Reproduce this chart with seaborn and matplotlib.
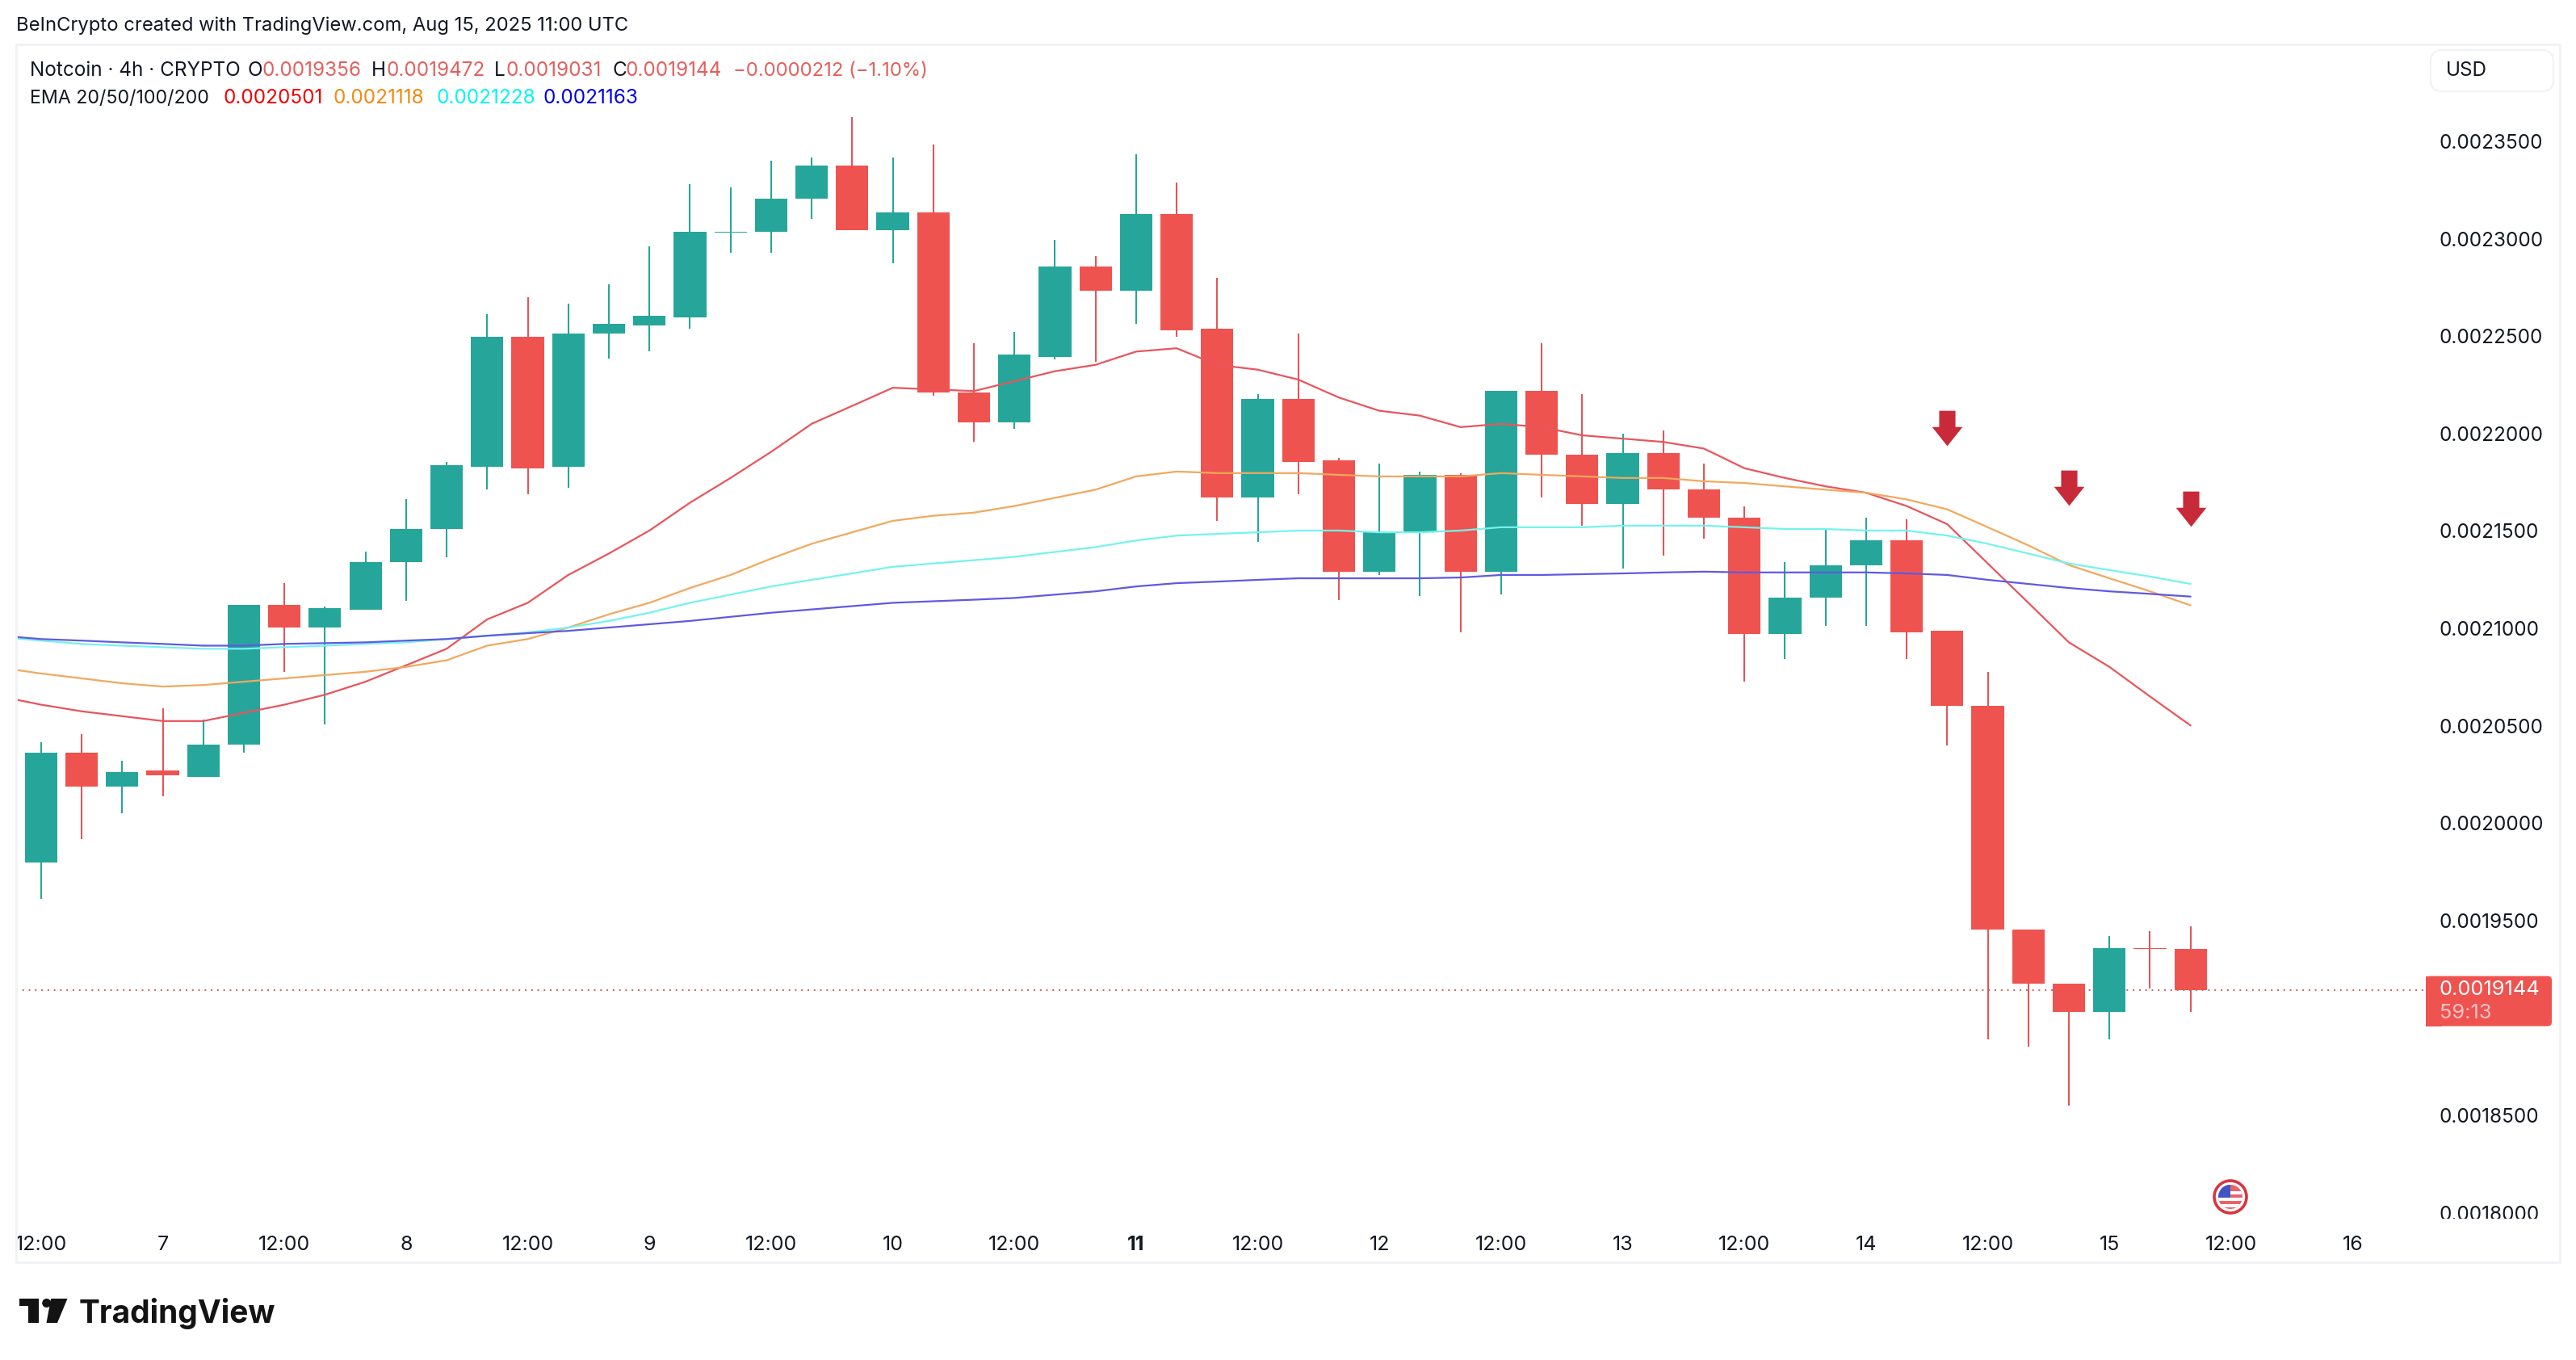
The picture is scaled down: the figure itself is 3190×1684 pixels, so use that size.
import numpy as np
import pandas as pd
import matplotlib
matplotlib.use("Agg")
import matplotlib.pyplot as plt
import matplotlib.transforms as mtransforms
import seaborn as sns

from matplotlib.patches import Circle, FancyBboxPatch, Polygon, Rectangle
from matplotlib.path import Path

# 4h candles
opens = [0.0019798, 0.0020363, 0.0020186, 0.0020271, 0.0020237, 0.0020405, 0.0021122, 0.0021004, 0.0021097, 0.0021342,
         0.0021510, 0.0021831, 0.0022497, 0.0021831, 0.0022513, 0.0022556, 0.0022598, 0.0023030, 0.0023036, 0.0023205,
         0.0023374, 0.0023045, 0.0023137, 0.0022210, 0.0022058, 0.0022395, 0.0022859, 0.0022733, 0.0023129, 0.0022539,
         0.0021670, 0.0022176, 0.0021864, 0.0021291, 0.0021493, 0.0021788, 0.0021291, 0.0022218, 0.0021890, 0.0021637,
         0.0021898, 0.0021712, 0.0021569, 0.0020970, 0.0021156, 0.0021325, 0.0021451, 0.0020987, 0.0020600, 0.0019453,
         0.0019174, 0.0019031, 0.0019360, 0.0019356]
highs = [0.0020414, 0.0020456, 0.0020321, 0.0020591, 0.0020532, 0.0021122, 0.0021232, 0.0021114, 0.0021392, 0.0021662,
         0.0021856, 0.0022615, 0.0022699, 0.0022665, 0.0022766, 0.0022960, 0.0023281, 0.0023264, 0.0023399, 0.0023416,
         0.0023626, 0.0023416, 0.0023483, 0.0022463, 0.0022522, 0.0022994, 0.0022910, 0.0023433, 0.0023289, 0.0022800,
         0.0022201, 0.0022513, 0.0021873, 0.0021847, 0.0021805, 0.0021796, 0.0022218, 0.0022463, 0.0022201, 0.0021999,
         0.0022016, 0.0021847, 0.0021628, 0.0021342, 0.0021510, 0.0021569, 0.0021561, 0.0020987, 0.0020777, 0.0019453,
         0.0019174, 0.0019419, 0.0019444, 0.0019472]
lows = [0.0019613, 0.0019917, 0.0020051, 0.0020136, 0.0020237, 0.0020363, 0.0020777, 0.0020507, 0.0021097, 0.0021139,
        0.0021367, 0.0021712, 0.0021687, 0.0021721, 0.0022387, 0.0022421, 0.0022539, 0.0022927, 0.0022927, 0.0023104,
        0.0023045, 0.0022876, 0.0022193, 0.0021957, 0.0022024, 0.0022379, 0.0022370, 0.0022564, 0.0022497, 0.0021552,
        0.0021443, 0.0021687, 0.0021147, 0.0021274, 0.0021164, 0.0020979, 0.0021173, 0.0021670, 0.0021527, 0.0021308,
        0.0021375, 0.0021460, 0.0020726, 0.0020844, 0.0021013, 0.0021013, 0.0020844, 0.0020397, 0.0018888, 0.0018854,
        0.0018550, 0.0018888, 0.0019149, 0.0019031]
closes = [0.0020363, 0.0020186, 0.0020262, 0.0020245, 0.0020405, 0.0021122, 0.0021004, 0.0021105, 0.0021342, 0.0021510,
          0.0021839, 0.0022497, 0.0021822, 0.0022513, 0.0022564, 0.0022606, 0.0023036, 0.0023038, 0.0023205, 0.0023374,
          0.0023045, 0.0023137, 0.0022210, 0.0022058, 0.0022404, 0.0022859, 0.0022733, 0.0023129, 0.0022530, 0.0021670,
          0.0022176, 0.0021856, 0.0021291, 0.0021493, 0.0021788, 0.0021291, 0.0022218, 0.0021890, 0.0021637, 0.0021898,
          0.0021712, 0.0021569, 0.0020970, 0.0021156, 0.0021325, 0.0021451, 0.0020979, 0.0020600, 0.0019453, 0.0019174,
          0.0019031, 0.0019360, 0.0019352, 0.0019144]

# EMAs start one candle before the first bar, they run off the left edge
ema20 = [0.0020650, 0.0020608, 0.0020574, 0.0020549, 0.0020524, 0.0020524, 0.0020566, 0.0020608, 0.0020659, 0.0020726,
         0.0020810, 0.0020895, 0.0021046, 0.0021131, 0.0021274, 0.0021384, 0.0021502, 0.0021645, 0.0021772, 0.0021906,
         0.0022050, 0.0022142, 0.0022235, 0.0022227, 0.0022218, 0.0022269, 0.0022320, 0.0022353, 0.0022421, 0.0022438,
         0.0022353, 0.0022328, 0.0022277, 0.0022185, 0.0022117, 0.0022092, 0.0022033, 0.0022050, 0.0022033, 0.0021991,
         0.0021974, 0.0021957, 0.0021923, 0.0021822, 0.0021772, 0.0021729, 0.0021696, 0.0021628, 0.0021535, 0.0021333,
         0.0021131, 0.0020928, 0.0020802, 0.0020650, 0.0020501]
ema50 = [0.0020798, 0.0020768, 0.0020743, 0.0020718, 0.0020701, 0.0020709, 0.0020726, 0.0020743, 0.0020760, 0.0020777,
         0.0020802, 0.0020836, 0.0020911, 0.0020945, 0.0021004, 0.0021072, 0.0021131, 0.0021207, 0.0021274, 0.0021358,
         0.0021434, 0.0021493, 0.0021552, 0.0021578, 0.0021594, 0.0021628, 0.0021670, 0.0021712, 0.0021780, 0.0021805,
         0.0021797, 0.0021797, 0.0021797, 0.0021788, 0.0021780, 0.0021780, 0.0021780, 0.0021797, 0.0021788, 0.0021780,
         0.0021772, 0.0021772, 0.0021755, 0.0021746, 0.0021729, 0.0021712, 0.0021696, 0.0021662, 0.0021611, 0.0021519,
         0.0021426, 0.0021325, 0.0021257, 0.0021190, 0.0021118]
ema100 = [0.0020954, 0.0020937, 0.0020920, 0.0020911, 0.0020903, 0.0020895, 0.0020895, 0.0020903, 0.0020911, 0.0020920,
          0.0020928, 0.0020945, 0.0020962, 0.0020979, 0.0021004, 0.0021038, 0.0021080, 0.0021131, 0.0021173, 0.0021215,
          0.0021249, 0.0021282, 0.0021316, 0.0021333, 0.0021350, 0.0021367, 0.0021392, 0.0021417, 0.0021451, 0.0021476,
          0.0021485, 0.0021493, 0.0021502, 0.0021502, 0.0021493, 0.0021493, 0.0021502, 0.0021519, 0.0021519, 0.0021519,
          0.0021527, 0.0021527, 0.0021527, 0.0021519, 0.0021510, 0.0021510, 0.0021502, 0.0021502, 0.0021476, 0.0021434,
          0.0021384, 0.0021333, 0.0021299, 0.0021266, 0.0021228]
ema200 = [0.0020962, 0.0020945, 0.0020937, 0.0020928, 0.0020920, 0.0020911, 0.0020911, 0.0020920, 0.0020924, 0.0020928,
          0.0020937, 0.0020945, 0.0020962, 0.0020975, 0.0020987, 0.0021004, 0.0021021, 0.0021038, 0.0021059, 0.0021080,
          0.0021097, 0.0021114, 0.0021131, 0.0021139, 0.0021147, 0.0021156, 0.0021173, 0.0021190, 0.0021215, 0.0021232,
          0.0021240, 0.0021249, 0.0021257, 0.0021257, 0.0021257, 0.0021257, 0.0021261, 0.0021274, 0.0021274, 0.0021278,
          0.0021282, 0.0021287, 0.0021291, 0.0021287, 0.0021287, 0.0021287, 0.0021287, 0.0021282, 0.0021274, 0.0021249,
          0.0021228, 0.0021207, 0.0021190, 0.0021177, 0.0021163]

time_positions = [0, 3, 6, 9, 12, 15, 18, 21, 24, 27, 30, 33, 36, 39, 42, 45, 48, 51, 54, 57]
time_labels = ["12:00", "7", "12:00", "8", "12:00", "9", "12:00", "10", "12:00", "11",
               "12:00", "12", "12:00", "13", "12:00", "14", "12:00", "15", "12:00", "16"]
# 0.0019000 sits behind the last price tag in the original, so it is not listed
price_ticks = [0.0018, 0.00185, 0.00195, 0.002, 0.00205, 0.0021, 0.00215, 0.0022, 0.00225, 0.0023, 0.00235]

arrow_candles = [47, 50, 53]
arrow_prices = [0.0022028, 0.0021723, 0.0021615]

GREEN = "#26a69a"
RED = "#ef5350"
WICK_RED = "#e2555a"
INK = "#131722"
W, H = 3190, 1684

sns.set_theme(style="white")
plt.rcParams["font.family"] = ["Inter", "DejaVu Sans"]

candles = pd.DataFrame({"open": opens, "high": highs, "low": lows, "close": closes})
candles["pos"] = candles.index
rising = candles["close"] >= candles["open"]
candles["color"] = np.where(rising, GREEN, RED)
candles["wick"] = np.where(rising, GREEN, WICK_RED)

fig = plt.figure(figsize=(W / 100, H / 100), dpi=100, facecolor="white")
left, right, top, bottom = 20.3, 3004, 55, 1509
ax = fig.add_axes([left / W, 1 - bottom / H, (right - left) / W, (bottom - top) / H])
ax.set_facecolor("white")

# pixel positions from the top left of the image, for everything around the chart
px = mtransforms.Affine2D().scale(1, -1).translate(0, H)


def put(x, y, s, **kw):
    kw.setdefault("color", INK)
    kw.setdefault("fontsize", 17.5)
    kw.setdefault("va", "center")
    return fig.text(x, y, s, transform=px, **kw)


# wicks and bodies
ax.vlines(candles["pos"], candles["low"], candles["high"], colors=candles["wick"], lw=1.5, zorder=2)
body_h = (candles["close"] - candles["open"]).abs().clip(lower=0.0000008)
ax.bar(candles["pos"], body_h, bottom=candles[["open", "close"]].min(axis=1), width=0.8,
       color=candles["color"], linewidth=0, zorder=3)

ema_x = np.arange(-1, len(ema20) - 1)
for values, c in [(ema20, "#e8555c"), (ema50, "#f2a85e"), (ema100, "#74f3ee"), (ema200, "#5f5ae0")]:
    sns.lineplot(x=ema_x, y=values, ax=ax, color=c, linewidth=1.6, zorder=4, errorbar=None)

ax.axhline(closes[-1], color="#c9615f", lw=1.4, ls=(0, (1, 3)), zorder=1)

# arrows drawn on the chart
arrow_path = Path([(-0.46, 1), (0.46, 1), (0.46, 0.08), (0.86, 0.08), (0, -1), (-0.86, 0.08), (-0.46, 0.08), (-0.46, 1)],
                  closed=True)
ax.plot(arrow_candles, arrow_prices, ls="none", marker=arrow_path, ms=31.5, color="#c92a3a", mew=0, zorder=6)

ax.set_xlim(-0.608, 58.8)
ax.set_ylim(0.0017969, 0.0023998)
ax.set_xticks(time_positions, time_labels)
ax.yaxis.tick_right()
ax.set_yticks(price_ticks, [f"{p:.7f}" for p in price_ticks])
ax.tick_params(axis="y", length=0, pad=12, labelsize=17.5, labelcolor=INK)
ax.tick_params(axis="x", length=0, pad=15.3, labelsize=18, labelcolor=INK)
for lab in ax.get_xticklabels():
    if lab.get_text() == "11":
        lab.set_fontweight("bold")
for lab in ax.get_yticklabels():
    lab.set_clip_box(mtransforms.Bbox([[right, H - bottom], [W, H - top]]))
    lab.set_clip_on(True)
sns.despine(ax=ax, left=True, bottom=True, top=True, right=True)

# outer frame
fig.add_artist(Rectangle((20, 55), 3150, 1508, transform=px, fill=False, ec="#f1f2f5", lw=2))

put(20, 32, "BeInCrypto created with TradingView.com, Aug 15, 2025 11:00 UTC", fontsize=17.1)

# legend rows
VAL = "#e2605f"
row1 = [(37, "Notcoin · 4h · CRYPTO", INK), (307, "O", INK), (325, "0.0019356", VAL), (460, "H", INK),
        (478, "0.0019472", VAL), (612, "L", INK), (626, "0.0019031", VAL), (759, "C", INK),
        (775, "0.0019144", VAL)]
for x, s, c in row1:
    put(x, 88, s, color=c)
put(908, 88, "−0.0000212 (−1.10%)", color=VAL, fontsize=17.2)
row2 = [(276, "0.0020501", "#f00000"), (412, "0.0021118", "#f08a12"),
        (540, "0.0021228", "#00f5f5"), (673, "0.0021163", "#0000e6")]
put(37, 122, "EMA 20/50/100/200", fontsize=16.7)
for x, s, c in row2:
    put(x, 122, s, color=c)

# USD button
fig.add_artist(FancyBboxPatch((3010, 62), 152, 51, boxstyle="round,pad=0,rounding_size=14", transform=px,
                              fc="white", ec="#f1f2f5", lw=1.5))
put(3029, 88, "USD")

# last price tag, square on the chart side
close_px = H - ax.transData.transform((0, closes[-1]))[1]
tag_mid = close_px + 14
fig.add_artist(FancyBboxPatch((right, tag_mid - 31), 156, 62, boxstyle="round,pad=0,rounding_size=5", transform=px,
                              fc=RED, ec="none"))
fig.add_artist(Rectangle((right, tag_mid - 31), 20, 62, transform=px, fc=RED, ec="none"))
put(3021, close_px, f"{closes[-1]:.7f}", color="white", fontsize=18.3)
put(3021, close_px + 29, "59:13", color="#ffc4c4", fontsize=18.3)

# flag icon
fx, fy = 2762, 1482
fig.add_artist(Circle((fx, fy), 20, transform=px, fc="white", ec="#d9343f", lw=2.6))
flag_clip = Circle((fx, fy), 15, transform=px, fc="#ee6068", ec="none")
fig.add_artist(flag_clip)
for dy in (-7, 1, 9):
    stripe = Rectangle((fx - 16, fy + dy), 32, 3.5, transform=px, fc="white", ec="none")
    fig.add_artist(stripe)
    stripe.set_clip_path(flag_clip)
canton = Rectangle((fx - 16, fy - 16), 16, 17, transform=px, fc="#3f55c4", ec="none")
fig.add_artist(canton)
canton.set_clip_path(flag_clip)

# TradingView logo
fig.add_artist(Polygon([(24, 1608), (48, 1608), (48, 1638), (35, 1638), (35, 1617), (24, 1617)], transform=px,
                       fc="#131313", ec="none"))
fig.add_artist(Circle((57.7, 1613.5), 5.5, transform=px, fc="#131313", ec="none"))
fig.add_artist(Polygon([(63, 1608), (83.5, 1608), (71, 1638), (57.5, 1638)], transform=px, fc="#131313", ec="none"))
put(98, 1638, "TradingView", color="#131313", fontsize=28, fontweight="bold", va="baseline")

fig.savefig("out.png", dpi=100)
